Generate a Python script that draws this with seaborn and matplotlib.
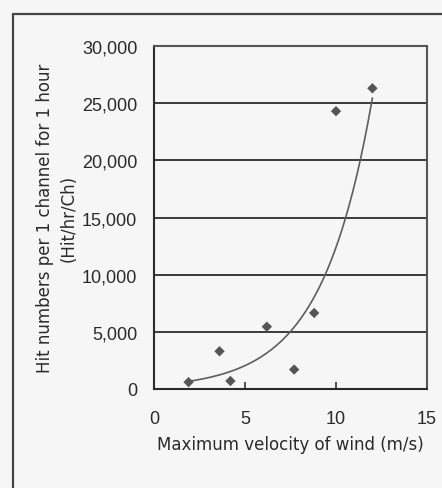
import numpy as np
import pandas as pd
import matplotlib
matplotlib.use("Agg")
import matplotlib.pyplot as plt
from matplotlib.lines import Line2D
from matplotlib.ticker import FuncFormatter
import seaborn as sns

# Observed hit rates against maximum wind velocity
wind_speed = [1.9, 3.6, 4.2, 6.2, 7.7, 8.8, 10.0, 12.0]
hit_rate = [600, 3300, 700, 5450, 1700, 6650, 24300, 26300]

x_ticks = [0, 5, 10, 15]
y_ticks = [0, 5000, 10000, 15000, 20000, 25000, 30000]

df = pd.DataFrame({"wind": wind_speed, "hits": hit_rate})

# Exponential trend line: least squares on log(y)
b, ln_a = np.polyfit(df["wind"], np.log(df["hits"]), 1)
xs = np.linspace(min(wind_speed), max(wind_speed), 200)
trend = pd.DataFrame({"wind": xs, "hits": np.exp(ln_a) * np.exp(b * xs)})

sns.set_theme(style="white")
plt.rcParams["font.family"] = ["Liberation Sans", "DejaVu Sans"]
bg = "#f6f6f6"
text_col = "#2a2a2a"

fig = plt.figure(figsize=(4.42, 4.89), dpi=100, facecolor=bg)
ax = fig.add_axes([154 / 442, 99 / 489, 273 / 442, 343 / 489])
ax.set_facecolor(bg)

for yv in y_ticks[1:]:
    ax.axhline(yv, color="#3a3a3a", lw=1.4, zorder=1)

sns.lineplot(data=trend, x="wind", y="hits", ax=ax, color="#5e5e5e", lw=1.2,
             zorder=2, legend=False)
sns.scatterplot(data=df, x="wind", y="hits", ax=ax, marker="D", s=28,
                color="#555555", edgecolor="none", zorder=3, legend=False)

ax.set_xlim(0, 15)
ax.set_ylim(0, 30000)
ax.set_xticks(x_ticks)
ax.set_yticks(y_ticks)
ax.yaxis.set_major_formatter(FuncFormatter(lambda v, p: f"{int(v):,}"))

ax.tick_params(axis="x", direction="in", length=5, width=1.2, color="#333333",
               pad=15, labelsize=13, labelcolor=text_col, bottom=True)
ax.tick_params(axis="y", length=0, pad=12, labelsize=13, labelcolor=text_col)

for side, sp in ax.spines.items():
    sp.set_visible(True)
    sp.set_color("#2a2a2a" if side in ("left", "bottom") else "#555555")
    sp.set_linewidth(1.5)

ax.set_xlabel("Maximum velocity of wind (m/s)", fontsize=12, color=text_col,
              labelpad=6, family=["DejaVu Sans"])
ax.set_ylabel("Hit numbers per 1 channel for 1 hour\n(Hit/hr/Ch)", fontsize=12,
              color=text_col, labelpad=3, linespacing=1.4,
              family=["DejaVu Sans"])

# Outer frame around the chart area
fig.add_artist(Line2D([12.5 / 442, 12.5 / 442], [0, 1 - 15 / 489],
                      transform=fig.transFigure, color="#444444", lw=1.6))
fig.add_artist(Line2D([12.5 / 442, 1], [1 - 15 / 489, 1 - 15 / 489],
                      transform=fig.transFigure, color="#444444", lw=1.6))

fig.savefig("out.png", dpi=100, facecolor=bg)
